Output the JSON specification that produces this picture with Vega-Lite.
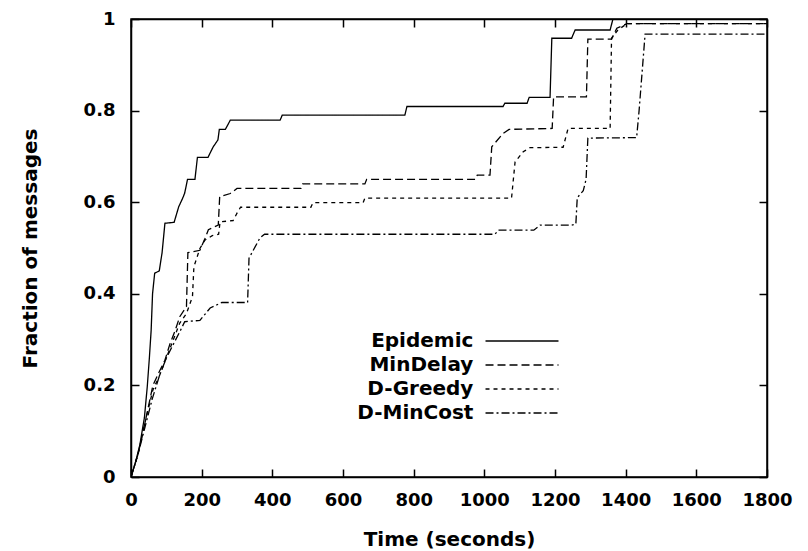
{
  "$schema": "https://vega.github.io/schema/vega-lite/v6.json",
  "width": 636,
  "height": 458,
  "autosize": "none",
  "padding": {"left": 131, "top": 19, "right": 41, "bottom": 74},
  "background": "white",
  "config": {
    "font": "DejaVu Sans",
    "view": {"stroke": "black", "strokeWidth": 1.5},
    "axis": {
      "grid": false,
      "domainColor": "black",
      "domainWidth": 1.5,
      "tickColor": "black",
      "tickWidth": 1.5,
      "tickSize": -8,
      "labelOverlap": false,
      "labelFlush": false,
      "labelFont": "DejaVu Sans",
      "labelFontWeight": "bold",
      "labelFontSize": 18,
      "labelColor": "black",
      "titleFont": "DejaVu Sans",
      "titleFontWeight": "bold",
      "titleFontSize": 20,
      "titleColor": "black"
    }
  },
  "data": {
    "values": [
      {"s": "Epidemic", "t": 0, "f": 0},
      {"s": "Epidemic", "t": 12, "f": 0.03},
      {"s": "Epidemic", "t": 25, "f": 0.07},
      {"s": "Epidemic", "t": 38, "f": 0.13},
      {"s": "Epidemic", "t": 46, "f": 0.197},
      {"s": "Epidemic", "t": 52, "f": 0.26},
      {"s": "Epidemic", "t": 57, "f": 0.32},
      {"s": "Epidemic", "t": 61, "f": 0.4},
      {"s": "Epidemic", "t": 67, "f": 0.445},
      {"s": "Epidemic", "t": 80, "f": 0.45},
      {"s": "Epidemic", "t": 88, "f": 0.49},
      {"s": "Epidemic", "t": 96, "f": 0.554},
      {"s": "Epidemic", "t": 122, "f": 0.556},
      {"s": "Epidemic", "t": 135, "f": 0.59},
      {"s": "Epidemic", "t": 147, "f": 0.61},
      {"s": "Epidemic", "t": 152, "f": 0.62},
      {"s": "Epidemic", "t": 160, "f": 0.65},
      {"s": "Epidemic", "t": 181, "f": 0.65},
      {"s": "Epidemic", "t": 188, "f": 0.698},
      {"s": "Epidemic", "t": 218, "f": 0.698},
      {"s": "Epidemic", "t": 232, "f": 0.72},
      {"s": "Epidemic", "t": 246, "f": 0.736},
      {"s": "Epidemic", "t": 250, "f": 0.759},
      {"s": "Epidemic", "t": 267, "f": 0.759},
      {"s": "Epidemic", "t": 281, "f": 0.779},
      {"s": "Epidemic", "t": 422, "f": 0.779},
      {"s": "Epidemic", "t": 428, "f": 0.79},
      {"s": "Epidemic", "t": 775, "f": 0.79},
      {"s": "Epidemic", "t": 781, "f": 0.809},
      {"s": "Epidemic", "t": 1053, "f": 0.809},
      {"s": "Epidemic", "t": 1058, "f": 0.816},
      {"s": "Epidemic", "t": 1121, "f": 0.816},
      {"s": "Epidemic", "t": 1127, "f": 0.829},
      {"s": "Epidemic", "t": 1186, "f": 0.829},
      {"s": "Epidemic", "t": 1191, "f": 0.958},
      {"s": "Epidemic", "t": 1247, "f": 0.958},
      {"s": "Epidemic", "t": 1257, "f": 0.976},
      {"s": "Epidemic", "t": 1356, "f": 0.976},
      {"s": "Epidemic", "t": 1364, "f": 1.0},
      {"s": "Epidemic", "t": 1800, "f": 1.0},

      {"s": "MinDelay", "t": 0, "f": 0},
      {"s": "MinDelay", "t": 20, "f": 0.05},
      {"s": "MinDelay", "t": 40, "f": 0.12},
      {"s": "MinDelay", "t": 62, "f": 0.2},
      {"s": "MinDelay", "t": 80, "f": 0.23},
      {"s": "MinDelay", "t": 96, "f": 0.255},
      {"s": "MinDelay", "t": 110, "f": 0.29},
      {"s": "MinDelay", "t": 125, "f": 0.32},
      {"s": "MinDelay", "t": 138, "f": 0.35},
      {"s": "MinDelay", "t": 157, "f": 0.372},
      {"s": "MinDelay", "t": 161, "f": 0.49},
      {"s": "MinDelay", "t": 195, "f": 0.495},
      {"s": "MinDelay", "t": 209, "f": 0.52},
      {"s": "MinDelay", "t": 219, "f": 0.54},
      {"s": "MinDelay", "t": 247, "f": 0.55},
      {"s": "MinDelay", "t": 251, "f": 0.612},
      {"s": "MinDelay", "t": 281, "f": 0.619},
      {"s": "MinDelay", "t": 300, "f": 0.63},
      {"s": "MinDelay", "t": 481, "f": 0.63},
      {"s": "MinDelay", "t": 486, "f": 0.64},
      {"s": "MinDelay", "t": 662, "f": 0.64},
      {"s": "MinDelay", "t": 667, "f": 0.65},
      {"s": "MinDelay", "t": 975, "f": 0.65},
      {"s": "MinDelay", "t": 980, "f": 0.659},
      {"s": "MinDelay", "t": 1016, "f": 0.659},
      {"s": "MinDelay", "t": 1021, "f": 0.721},
      {"s": "MinDelay", "t": 1053, "f": 0.75},
      {"s": "MinDelay", "t": 1070, "f": 0.759},
      {"s": "MinDelay", "t": 1192, "f": 0.761},
      {"s": "MinDelay", "t": 1196, "f": 0.83},
      {"s": "MinDelay", "t": 1289, "f": 0.83},
      {"s": "MinDelay", "t": 1293, "f": 0.956},
      {"s": "MinDelay", "t": 1360, "f": 0.956},
      {"s": "MinDelay", "t": 1375, "f": 0.98},
      {"s": "MinDelay", "t": 1404, "f": 0.99},
      {"s": "MinDelay", "t": 1800, "f": 0.99},

      {"s": "D-Greedy", "t": 0, "f": 0},
      {"s": "D-Greedy", "t": 20, "f": 0.05},
      {"s": "D-Greedy", "t": 40, "f": 0.12},
      {"s": "D-Greedy", "t": 62, "f": 0.19},
      {"s": "D-Greedy", "t": 80, "f": 0.22},
      {"s": "D-Greedy", "t": 100, "f": 0.26},
      {"s": "D-Greedy", "t": 120, "f": 0.3},
      {"s": "D-Greedy", "t": 138, "f": 0.336},
      {"s": "D-Greedy", "t": 157, "f": 0.357},
      {"s": "D-Greedy", "t": 174, "f": 0.394},
      {"s": "D-Greedy", "t": 178, "f": 0.459},
      {"s": "D-Greedy", "t": 195, "f": 0.499},
      {"s": "D-Greedy", "t": 209, "f": 0.517},
      {"s": "D-Greedy", "t": 230, "f": 0.527},
      {"s": "D-Greedy", "t": 248, "f": 0.53},
      {"s": "D-Greedy", "t": 252, "f": 0.557},
      {"s": "D-Greedy", "t": 289, "f": 0.56},
      {"s": "D-Greedy", "t": 300, "f": 0.576},
      {"s": "D-Greedy", "t": 310, "f": 0.589},
      {"s": "D-Greedy", "t": 509, "f": 0.589},
      {"s": "D-Greedy", "t": 515, "f": 0.599},
      {"s": "D-Greedy", "t": 657, "f": 0.599},
      {"s": "D-Greedy", "t": 662, "f": 0.609},
      {"s": "D-Greedy", "t": 1077, "f": 0.609},
      {"s": "D-Greedy", "t": 1087, "f": 0.688},
      {"s": "D-Greedy", "t": 1110, "f": 0.71},
      {"s": "D-Greedy", "t": 1129, "f": 0.719},
      {"s": "D-Greedy", "t": 1223, "f": 0.72},
      {"s": "D-Greedy", "t": 1237, "f": 0.761},
      {"s": "D-Greedy", "t": 1356, "f": 0.761},
      {"s": "D-Greedy", "t": 1360, "f": 0.958},
      {"s": "D-Greedy", "t": 1378, "f": 0.976},
      {"s": "D-Greedy", "t": 1404, "f": 0.99},
      {"s": "D-Greedy", "t": 1800, "f": 0.99},

      {"s": "D-MinCost", "t": 0, "f": 0},
      {"s": "D-MinCost", "t": 20, "f": 0.05},
      {"s": "D-MinCost", "t": 40, "f": 0.11},
      {"s": "D-MinCost", "t": 60, "f": 0.17},
      {"s": "D-MinCost", "t": 80, "f": 0.22},
      {"s": "D-MinCost", "t": 100, "f": 0.26},
      {"s": "D-MinCost", "t": 120, "f": 0.29},
      {"s": "D-MinCost", "t": 140, "f": 0.32},
      {"s": "D-MinCost", "t": 152, "f": 0.339},
      {"s": "D-MinCost", "t": 195, "f": 0.342},
      {"s": "D-MinCost", "t": 224, "f": 0.369},
      {"s": "D-MinCost", "t": 257, "f": 0.381},
      {"s": "D-MinCost", "t": 330, "f": 0.381},
      {"s": "D-MinCost", "t": 334, "f": 0.478},
      {"s": "D-MinCost", "t": 365, "f": 0.522},
      {"s": "D-MinCost", "t": 378, "f": 0.53},
      {"s": "D-MinCost", "t": 1030, "f": 0.53},
      {"s": "D-MinCost", "t": 1040, "f": 0.539},
      {"s": "D-MinCost", "t": 1140, "f": 0.539},
      {"s": "D-MinCost", "t": 1158, "f": 0.55},
      {"s": "D-MinCost", "t": 1247, "f": 0.55},
      {"s": "D-MinCost", "t": 1259, "f": 0.552},
      {"s": "D-MinCost", "t": 1263, "f": 0.61},
      {"s": "D-MinCost", "t": 1280, "f": 0.625},
      {"s": "D-MinCost", "t": 1288, "f": 0.65},
      {"s": "D-MinCost", "t": 1293, "f": 0.74},
      {"s": "D-MinCost", "t": 1431, "f": 0.741},
      {"s": "D-MinCost", "t": 1438, "f": 0.8},
      {"s": "D-MinCost", "t": 1455, "f": 0.967},
      {"s": "D-MinCost", "t": 1800, "f": 0.967}
    ]
  },
  "layer": [
    {
      "mark": {"type": "line", "color": "black", "strokeWidth": 1.3, "clip": true},
      "encoding": {
        "x": {
          "field": "t", "type": "quantitative",
          "scale": {"domain": [0, 1800], "nice": false},
          "axis": {"orient": "bottom", "values": [0, 200, 400, 600, 800, 1000, 1200, 1400, 1600, 1800], "format": "d", "title": "Time (seconds)", "labelPadding": 22, "titlePadding": 20}
        },
        "y": {
          "field": "f", "type": "quantitative",
          "scale": {"domain": [0, 1], "nice": false},
          "axis": {"orient": "left", "values": [0, 0.2, 0.4, 0.6, 0.8, 1], "format": "~g", "title": "Fraction of messages", "labelPadding": 24, "titlePadding": 43}
        },
        "strokeDash": {
          "field": "s", "type": "nominal",
          "scale": {"domain": ["Epidemic", "MinDelay", "D-Greedy", "D-MinCost"], "range": [[1, 0], [8, 4], [4, 4], [8, 3, 2, 3]]},
          "legend": {
            "orient": "none", "legendX": 381, "legendY": 312, "title": null,
            "symbolType": "M-5,0H5", "symbolSize": 213, "symbolStrokeWidth": 1.5,
            "symbolStrokeColor": "black", "symbolFillColor": "transparent",
            "labelAlign": "right", "labelOffset": -58.6,
            "labelFont": "DejaVu Sans", "labelFontWeight": "bold", "labelFontSize": 20, "labelColor": "black",
            "rowPadding": 4
          }
        }
      }
    },
    {
      "mark": {"type": "line", "opacity": 0},
      "encoding": {
        "x": {"field": "t", "type": "quantitative", "axis": {"orient": "top", "values": [0, 200, 400, 600, 800, 1000, 1200, 1400, 1600, 1800], "labels": false, "title": null}},
        "y": {"field": "f", "type": "quantitative", "axis": {"orient": "right", "values": [0, 0.2, 0.4, 0.6, 0.8, 1], "labels": false, "title": null}},
        "detail": {"field": "s", "type": "nominal"}
      }
    }
  ],
  "resolve": {"axis": {"x": "independent", "y": "independent"}}
}
